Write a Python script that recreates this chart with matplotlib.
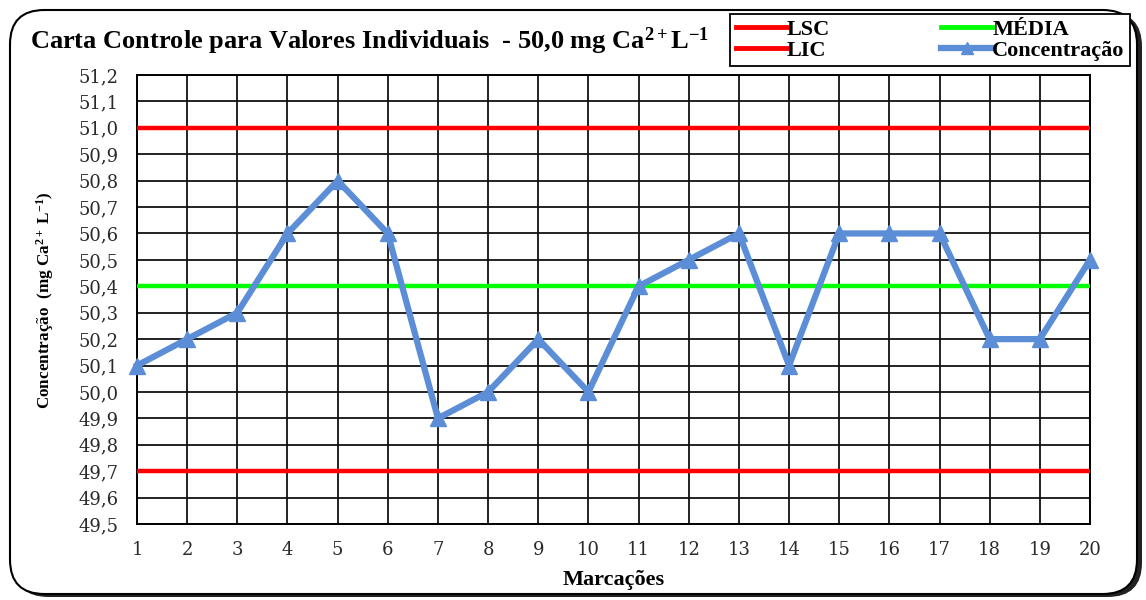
import matplotlib
matplotlib.use("Agg")
import matplotlib.pyplot as plt
from matplotlib.patches import FancyBboxPatch
from matplotlib.lines import Line2D
from matplotlib.ticker import FuncFormatter, MultipleLocator

# Control chart data
marcacoes = list(range(1, 21))
concentracao = [50.1, 50.2, 50.3, 50.6, 50.8, 50.6, 49.9, 50.0, 50.2, 50.0,
                50.4, 50.5, 50.6, 50.1, 50.6, 50.6, 50.6, 50.2, 50.2, 50.5]
lsc = 51.0
media = 50.4
lic = 49.7
rotulos_legenda = ['LSC', 'LIC', 'MÉDIA', 'Concentração']

plt.rcParams['font.family'] = ['Liberation Serif', 'DejaVu Serif']
plt.rcParams['mathtext.fontset'] = 'custom'
plt.rcParams['mathtext.rm'] = 'Liberation Serif:bold'
plt.rcParams['mathtext.it'] = 'Liberation Serif:bold'
plt.rcParams['mathtext.bf'] = 'Liberation Serif:bold'

W, H = 1146, 600
fig = plt.figure(figsize=(W / 100, H / 100), dpi=100)

# Outer rounded frame with shadow
shadow = FancyBboxPatch((14 / W, 3 / H), (1128 / W), (585 / H),
                        boxstyle="round,pad=0,rounding_size=0.03",
                        transform=fig.transFigure, facecolor='#222222',
                        edgecolor='none', zorder=0, mutation_aspect=W / H)
frame = FancyBboxPatch((10 / W, 6 / H), (1127 / W), (584 / H),
                       boxstyle="round,pad=0,rounding_size=0.03",
                       transform=fig.transFigure, facecolor='white',
                       edgecolor='black', linewidth=1.5, zorder=1,
                       mutation_aspect=W / H)
fig.patches.extend([shadow, frame])

ax = fig.add_axes([137 / W, 1 - 524 / H, (1090 - 137) / W, (524 - 75) / H])
ax.set_zorder(2)
ax.patch.set_alpha(0)

ax.axhline(lsc, color='#FF0000', linewidth=3.2, zorder=3)
ax.axhline(lic, color='#FF0000', linewidth=3.2, zorder=3)
ax.axhline(media, color='#00FF00', linewidth=3.2, zorder=3)
ax.plot(marcacoes, concentracao, color='#5B8ED6', linewidth=4.5,
        marker='^', markersize=12, zorder=4, clip_on=False)

ax.set_xlim(1, 20)
ax.set_ylim(49.5, 51.2)
ax.xaxis.set_major_locator(MultipleLocator(1))
ax.yaxis.set_major_locator(MultipleLocator(0.1))
ax.yaxis.set_major_formatter(FuncFormatter(lambda v, p: f"{v:.1f}".replace('.', ',')))
ax.grid(True, color='#111111', linewidth=1.3, zorder=1)
ax.set_axisbelow(True)
for s in ax.spines.values():
    s.set_linewidth(1.4)
ax.tick_params(axis='both', length=0)
for lab in ax.get_xticklabels() + ax.get_yticklabels():
    lab.set_family('DejaVu Serif')
    lab.set_fontsize(13)
    lab.set_color('#2a2a2a')
ax.tick_params(axis='y', pad=13.5)
ax.tick_params(axis='x', pad=12.5)

ax.set_xlabel('Marcações', fontsize=16, fontweight='bold')
ax.xaxis.label.set_va('center')
ax.xaxis.set_label_coords(0.5, -(580 - 524) / 449)

fig.text(45 / W, 1 - 300 / H, 'Concentração  (mg Ca$^{2+}$ L$^{-1}$)',
         rotation=90, fontsize=12.3, fontweight='bold', fontstretch='condensed',
         ha='center', va='center')

fig.text(30 / W, 1 - 41 / H,
         'Carta Controle para Valores Individuais  - 50,0 mg Ca$^{2+}$L$^{-1}$',
         fontsize=19, fontweight='bold', ha='left', va='center')

handles = [Line2D([], [], color='#FF0000', linewidth=3.5),
           Line2D([], [], color='#FF0000', linewidth=3.5),
           Line2D([], [], color='#00FF00', linewidth=3.5),
           Line2D([], [], color='#5B8ED6', linewidth=4.5, marker='^', markersize=9)]
leg = fig.legend(handles, rotulos_legenda, ncol=2, loc='upper left',
                 bbox_to_anchor=(730 / W, 1 - 14 / H),
                 fancybox=False, edgecolor='black', framealpha=1,
                 prop={'weight': 'bold', 'size': 16},
                 handlelength=2.3, handletextpad=0.0, columnspacing=5.0,
                 labelspacing=0.0, borderpad=0.25, borderaxespad=0)
leg.get_frame().set_linewidth(1.3)
leg.set_zorder(5)

fig.savefig('out.png', dpi=100)
